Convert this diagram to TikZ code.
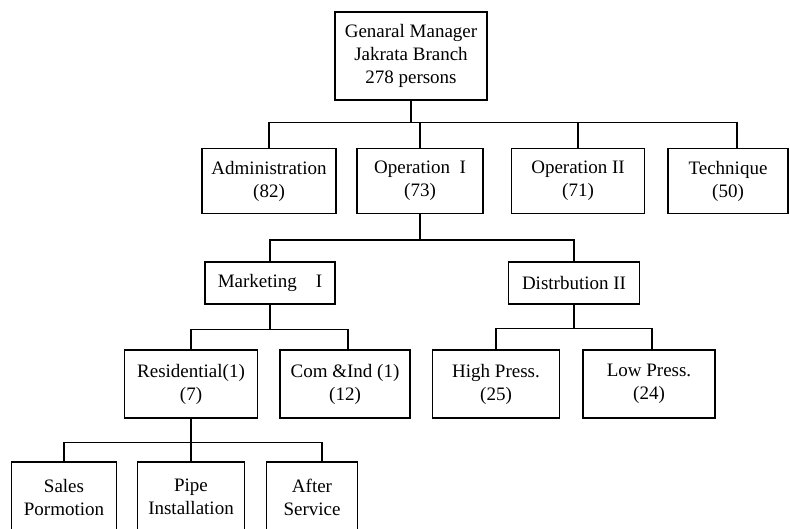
\documentclass[tikz,border=0pt]{standalone}
\usepackage{fontspec}
\setmainfont{Liberation Serif}
\usepackage{tikz}
\usetikzlibrary{positioning}

\begin{document}
\begin{tikzpicture}[x=1pt,y=-1pt,
        unit/.style = {draw, rectangle, line width=1.3pt, align=center, inner sep=2pt,
                       font=\fontsize{19}{23}\selectfont},
        link/.style = {draw, line width=1.5pt},
        ]
        \useasboundingbox (0,0) rectangle (790,528);
        \clip (0,0) rectangle (790,528);
        \fill[white] (0,0) rectangle (790,528);
        % top
        \node[unit, minimum width=152pt, minimum height=88pt] (gm) at (411,56) {Genaral Manager\\Jakrata Branch\\278 persons};
        % second level
        \node[unit, minimum width=134pt, minimum height=65pt] (adm) at (269,181) {Administration\\(82)};
        \node[unit, minimum width=126pt, minimum height=65pt] (op1) at (420,181) {Operation~~I\\(73)};
        \node[unit, minimum width=133pt, minimum height=65pt] (op2) at (578,181) {Operation II\\(71)};
        \node[unit, minimum width=120pt, minimum height=65pt] (tech) at (728,181) {Technique\\(50)};
        % third level
        \node[unit, minimum width=130pt, minimum height=42pt] (mkt) at (270,283) {Marketing~~~~I};
        \node[unit, minimum width=131pt, minimum height=42pt] (dist) at (574,283) {Distrbution II};
        % fourth level
        \node[unit, minimum width=133pt, minimum height=68pt] (res) at (191,384) {Residential(1)\\(7)};
        \node[unit, minimum width=130pt, minimum height=68pt] (com) at (345,384) {Com \&Ind (1)\\(12)};
        \node[unit, minimum width=127pt, minimum height=68pt] (high) at (496,384) {High Press.\\(25)};
        \node[unit, minimum width=132pt, minimum height=68pt] (low) at (649,384) {Low Press.\\(24)};
        % bottom
        \node[unit, minimum width=105pt, minimum height=70pt] (sales) at (64,497) {Sales\\Pormotion};
        \node[unit, minimum width=107pt, minimum height=70pt] (pipe) at (191,497) {Pipe\\Installation};
        \node[unit, minimum width=91pt, minimum height=70pt] (after) at (312,497) {After\\Service};
        % connectors
        \draw[link] (gm.south) -- ++(0,22) coordinate (b1);
        \draw[link] (b1) -| (adm.north);
        \draw[link] (b1) -| (op1.north);
        \draw[link] (b1) -| (op2.north);
        \draw[link] (b1) -| ([xshift=9pt]tech.north);
        \draw[link] (op1.south) -- ++(0,26) coordinate (b2);
        \draw[link] (b2) -| (mkt.north);
        \draw[link] (b2) -| (dist.north);
        \draw[link] (mkt.south) -- ++(0,25) coordinate (b3);
        \draw[link] (b3) -| (res.north);
        \draw[link] (b3) -| ([xshift=3pt]com.north);
        \draw[link] (dist.south) -- ++(0,24) coordinate (b4);
        \draw[link] (b4) -| (high.north);
        \draw[link] (b4) -| ([xshift=3pt]low.north);
        \draw[link] (res.south) -- ++(0,24) coordinate (b5);
        \draw[link] (b5) -| (sales.north);
        \draw[link] (b5) -| (pipe.north);
        \draw[link] (b5) -| ([xshift=10pt]after.north);
\end{tikzpicture}
\end{document}
